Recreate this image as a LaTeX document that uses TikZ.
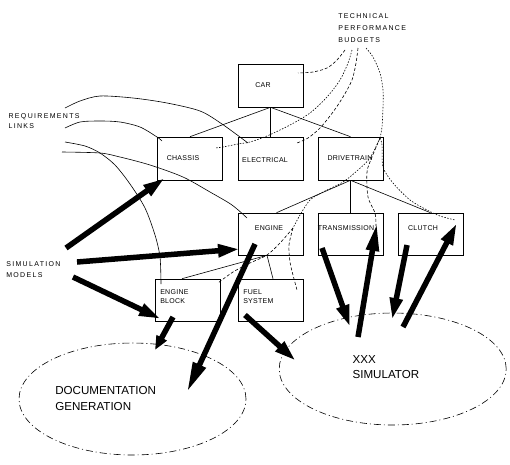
\documentclass[tikz,border=0pt]{standalone}
\usepackage{fontspec}
\setmainfont{Liberation Sans}
\newfontfamily\boxfont[LetterSpace=4]{Liberation Sans}
\newfontfamily\lblfont[LetterSpace=19]{Liberation Sans}
\usetikzlibrary{arrows.meta,shapes.geometric}
\begin{document}
\begin{tikzpicture}[x=1pt,y=-1pt,line width=0.6pt,
  box/.style={draw, minimum width=65pt, minimum height=43pt, inner sep=0pt},
  btxt/.style={font=\boxfont\fontsize{7}{9.3}\selectfont, inner sep=0pt},
  btxtl/.style={btxt, align=left, anchor=north west},
  lbl/.style={font=\lblfont\fontsize{7}{11}\selectfont, inner sep=0pt, align=left, anchor=north west},
  big/.style={font=\fontsize{11.6}{15.3}\selectfont, inner sep=0pt, align=left, anchor=north west},
  tpb/.style={dash pattern=on 3pt off 2pt},
  tpbdot/.style={dash pattern=on 1.5pt off 1.5pt},
  fat/.style={line width=5.5pt, -{Triangle[length=22pt,width=12pt]}},
  fatshort/.style={line width=5.5pt, -{Triangle[length=14pt,width=11pt]}},
  cloud/.style={draw, ellipse, dash pattern=on 7pt off 3pt on 1pt off 3pt, inner sep=0pt}]
\useasboundingbox[fill=white] (0,0) rectangle (510,464);

% boxes
\node[box] (car) at (270.5,85.5) {};
\node[box] (chassis) at (190,158.5) {};
\node[box] (elec) at (270.5,158.5) {};
\node[box] (drive) at (350.5,158.5) {};
\node[box, minimum height=42pt] (engine) at (270.5,234) {};
\node[box, minimum height=42pt] (trans) at (350.5,234) {};
\node[box, minimum height=42pt] (clutch) at (430.5,234) {};
\node[box, minimum height=42pt] (eblock) at (188,300) {};
\node[box, minimum height=42pt] (fuel) at (270.5,300) {};

% box texts
\node[btxt] (tcar) at (263,85) {CAR};
\node[btxt] (tchassis) at (183,158) {CHASSIS};
\node[btxt] (telec) at (265,160.5) {ELECTRICAL};
\node[btxt] (tdrive) at (350,158) {DRIVETRAIN};
\node[btxt] (tengine) at (269,228) {ENGINE};
\node[btxt] (ttrans) at (346,228) {TRANSMISSION};
\node[btxt] (tclutch) at (423,228) {CLUTCH};
\node[btxtl] (teblock) at (160,289.2) {ENGINE\\BLOCK};
\node[btxtl] (tfuel) at (243,289.2) {FUEL\\SYSTEM};

% labels
\node[lbl, font=\lblfont\fontsize{7}{12}\selectfont] (ltpb) at (338,13.5) {TECHNICAL\\PERFORMANCE\\BUDGETS};
\node[lbl, font=\lblfont\fontsize{7}{10}\selectfont] (lreq) at (8.3,113.2) {REQUIREMENTS\\LINKS};
\node[lbl, font=\lblfont\fontsize{7}{10.7}\selectfont] (lsim) at (6,261.5) {SIMULATION\\MODELS};

% ellipses
\node[cloud, minimum width=227pt, minimum height=112pt] (docell) at (132.5,399) {};
\node[cloud, minimum width=227pt, minimum height=112pt] (simell) at (392.7,369) {};
\node[big] (tdoc) at (55,386.5) {DOCUMENTATION\\GENERATION};
\node[big] (tsim) at (352.3,355.2) {XXX\\SIMULATOR};

% tree
\draw (car.south) -- (chassis.north);
\draw (car.south) -- (elec.north);
\draw (car.south) -- (drive.north);
\draw (drive.south) -- ([xshift=6pt]engine.north);
\draw (drive.south) -- (trans.north);
\draw (drive.south) -- (clutch.north);
\draw ([xshift=-3.5pt]engine.south) -- ([xshift=-6pt]eblock.north);
\draw ([xshift=-3.5pt]engine.south) -- ([xshift=2.5pt]fuel.north);

% requirements links
\coordinate (ra) at (65,108);
\coordinate (rb) at (65,128);
\coordinate (rc) at (65,142);
\coordinate (rd) at (62,152);
\coordinate (ea) at (248,143);
\coordinate (eb) at (162,141);
\coordinate (ec) at (161,284);
\coordinate (ed) at (247,218);
\draw plot[smooth] coordinates {(ra) (80,101) (100,96) (133,98) (167,103) (200,111) (222,124) (ea)};
\draw plot[smooth] coordinates {(rb) (80,122) (100,121) (120,122) (140,127) (157,137) (eb)};
\draw plot[smooth] coordinates {(rc) (85,146) (100,153) (115,165) (130,184) (145,208) (155,235) (160,257) (ec)};
\draw plot[smooth] coordinates {(rd) (100,153) (120,157) (150,165) (183,177) (210,192) (232,205) (ed)};

% technical performance budgets
\coordinate (t1) at (345,50);
\coordinate (t2) at (352,50);
\coordinate (t3) at (358,48);
\coordinate (t4) at (366,48);
\coordinate (e1) at (298,73);
\coordinate (e2) at (215,148);
\coordinate (e3) at (297,143);
\coordinate (sp) at (380,138);
\coordinate (sp2) at (293,228);
\coordinate (etr) at (376,226);
\coordinate (ecl) at (455,220);
\coordinate (eeb) at (218,283);
\coordinate (efu) at (297,290);
\draw[tpb] plot[smooth] coordinates {(t1) (337,60) (327,68) (313,72) (e1)};
\draw[tpbdot] plot[smooth] coordinates {(t2) (348,63) (340,80) (327,97) (310,113) (290,125) (267,136) (250,142) (238,144) (223,147) (e2)};
\draw[tpb] plot[smooth] coordinates {(t3) (356,63) (352,80) (343,97) (333,112) (320,128) (308,138) (e3)};
\draw[tpbdot] plot[smooth] coordinates {(t4) (373,57) (380,73) (383,90) (383,107) (382,127) (sp)};
\draw[tpb] plot[smooth] coordinates {(sp) (372,157) (367,172) (368,197) (375,213) (etr)};
\draw[tpbdot] plot[smooth] coordinates {(sp) (382,145) (383,167) (393,183) (410,200) (427,210) (440,216) (ecl)};
\draw[tpbdot] plot[smooth] coordinates {(sp) (370,158) (358,170) (343,182) (323,192) (310,200) (300,215) (sp2)};
\draw[tpb] plot[smooth] coordinates {(sp2) (280,243) (267,255) (250,263) (233,272) (eeb)};
\draw[tpb] plot[smooth] coordinates {(sp2) (289,245) (290,262) (293,275) (efu)};

% simulation arrows
\coordinate (s1) at (66,248);
\coordinate (s2) at (77,262);
\coordinate (s3) at (73,277);
\coordinate (a1) at (165,178);
\coordinate (a2) at (240,249);
\coordinate (a3) at (161,319);
\draw[fat] (s1) -- (a1);
\draw[fat] (s2) -- (a2);
\draw[fat] (s3) -- (a3);
\coordinate (b4) at (173,317);
\coordinate (d4) at (155,350);
\coordinate (b5) at (255,244);
\coordinate (d5) at (187,392);
\coordinate (b6) at (245,315);
\coordinate (d6) at (296,361);
\draw[fatshort] (b4) -- (d4);
\draw[fat, -{Triangle[length=30pt,width=13pt]}] (b5) -- (d5);
\draw[fat] (b6) -- (d6);
\coordinate (b7) at (322,248);
\coordinate (d7) at (350,327);
\coordinate (b8) at (358,337);
\coordinate (d8) at (377,223);
\coordinate (b9) at (407,245);
\coordinate (d9) at (392,320);
\coordinate (b10) at (403,327);
\coordinate (d10) at (457,223);
\draw[fat] (b7) -- (d7);
\draw[fat, -{Triangle[length=28pt,width=12pt]}] (b8) -- (d8);
\draw[fat] (b9) -- (d9);
\draw[fat] (b10) -- (d10);
\end{tikzpicture}
\end{document}
